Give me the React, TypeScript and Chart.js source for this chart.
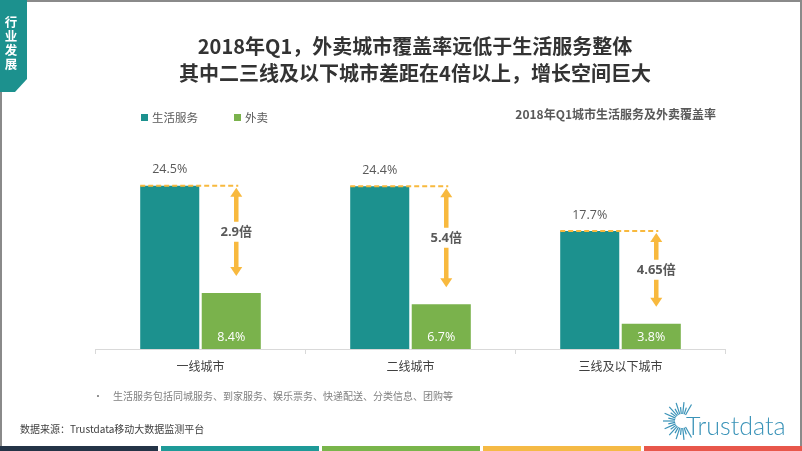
import React, { useEffect, useRef } from "react";
import { Chart, registerables } from "chart.js";

Chart.register(...registerables);

const categories = ["一线城市", "二线城市", "三线及以下城市"];
const seriesNames = ["生活服务", "外卖"];
const lifeService = [24.5, 24.4, 17.7];
const takeaway = [8.4, 6.7, 3.8];
const ratioLabels = ["2.9倍", "5.4倍", "4.65倍"];
const yRange = [0, 30];

const TEAL = "#1C918E";
const GREEN = "#7AB24C";
const ORANGE = "#F8B93E";
const FONT = "'Noto Sans CJK SC', 'Open Sans', sans-serif";
const NUMFONT = "'Open Sans', 'Noto Sans CJK SC', sans-serif";

const annotate = {
  id: "annotate",
  afterDatasetsDraw(chart: any) {
    const ctx = chart.ctx as CanvasRenderingContext2D;
    const m0 = chart.getDatasetMeta(0).data;
    const m1 = chart.getDatasetMeta(1).data;
    const base = chart.scales.y.getPixelForValue(0);
    ctx.save();
    m0.forEach((bar: any, i: number) => {
      const g = m1[i];
      const w = bar.width;
      ctx.textAlign = "center";
      ctx.textBaseline = "middle";
      ctx.font = `12.5px ${NUMFONT}`;
      ctx.fillStyle = "#595959";
      ctx.fillText(lifeService[i].toFixed(1) + "%", bar.x, bar.y - 16);
      ctx.fillStyle = "#ffffff";
      ctx.fillText(takeaway[i].toFixed(1) + "%", g.x, base - 12);

      const ax = g.x + 5;
      ctx.strokeStyle = ORANGE;
      ctx.lineWidth = 2;
      ctx.setLineDash([5, 3]);
      ctx.beginPath();
      ctx.moveTo(bar.x - w / 2, bar.y);
      ctx.lineTo(ax + 2, bar.y);
      ctx.stroke();
      ctx.setLineDash([]);

      const top = bar.y + 2;
      const bot = g.y - 17;
      const mid = (top + bot) / 2;
      ctx.lineWidth = 4.5;
      ctx.beginPath();
      ctx.moveTo(ax, top + 8);
      ctx.lineTo(ax, mid - 10);
      ctx.moveTo(ax, mid + 10);
      ctx.lineTo(ax, bot - 8);
      ctx.stroke();
      ctx.fillStyle = ORANGE;
      ctx.beginPath();
      ctx.moveTo(ax, top);
      ctx.lineTo(ax - 6, top + 9);
      ctx.lineTo(ax + 6, top + 9);
      ctx.closePath();
      ctx.fill();
      ctx.beginPath();
      ctx.moveTo(ax, bot);
      ctx.lineTo(ax - 6, bot - 9);
      ctx.lineTo(ax + 6, bot - 9);
      ctx.closePath();
      ctx.fill();

      ctx.font = `bold 13px ${NUMFONT}`;
      ctx.fillStyle = "#595959";
      ctx.fillText(ratioLabels[i], ax, mid);
    });
    ctx.restore();
  },
};

const stripeColors = ["#243447", "#1E9A98", "#79B54B", "#F5BA45", "#E8574B"];

function Sunburst() {
  const rays: any[] = [];
  const cx = 22, cy = 24;
  let k = 0;
  for (let a = 60; a <= 300; a += 12) {
    const rad = (a * Math.PI) / 180;
    const r0 = 7;
    const r1 = k % 2 === 0 ? 19 : 14;
    rays.push(
      <line
        key={a}
        x1={cx + r0 * Math.cos(rad)}
        y1={cy - r0 * Math.sin(rad)}
        x2={cx + r1 * Math.cos(rad)}
        y2={cy - r1 * Math.sin(rad)}
        stroke="#3A93B8"
        strokeWidth={1.2}
      />
    );
    k++;
  }
  return (
    <svg width={44} height={48} style={{ position: "absolute", left: 660, top: 397 }}>
      {rays}
    </svg>
  );
}

export default function App() {
  const ref = useRef<HTMLCanvasElement>(null);
  useEffect(() => {
    if (!ref.current) return;
    const chart = new Chart(ref.current, {
      type: "bar",
      data: {
        labels: categories,
        datasets: [
          {
            label: seriesNames[0],
            data: lifeService,
            backgroundColor: TEAL,
            categoryPercentage: 0.586,
            barPercentage: 0.96,
          },
          {
            label: seriesNames[1],
            data: takeaway,
            backgroundColor: GREEN,
            categoryPercentage: 0.586,
            barPercentage: 0.96,
          },
        ],
      },
      options: {
        responsive: false,
        animation: false,
        layout: { padding: { left: 95.5, right: 76.5, top: 149, bottom: 62 } },
        plugins: { legend: { display: false }, tooltip: { enabled: false } },
        scales: {
          x: {
            grid: {
              display: true,
              drawOnChartArea: false,
              drawTicks: true,
              tickLength: 5,
              color: "#d9d9d9",
            },
            border: { color: "#d9d9d9" },
            ticks: { color: "#404040", font: { size: 12, family: FONT }, padding: 5 },
            afterFit: (s: any) => {
              s.height = 40;
            },
          },
          y: { display: false, min: yRange[0], max: yRange[1] },
        },
      } as any,
      plugins: [annotate],
    });
    return () => chart.destroy();
  }, []);

  const abs = (s: any) => ({ position: "absolute", ...s }) as React.CSSProperties;

  return (
    <div style={abs({ left: 0, top: 0, width: 802, height: 451, background: "#fff", overflow: "hidden", fontFamily: FONT })}>
      <canvas ref={ref} width={802} height={451} style={abs({ left: 0, top: 0, width: 802, height: 451 })} />
      {/* frame */}
      <div style={abs({ left: 0, top: 0, width: 802, height: 2, background: "#8a8a8a" })} />
      <div style={abs({ left: 0, top: 92, width: 2, height: 354, background: "#8a8a8a" })} />
      <div style={abs({ left: 800, top: 0, width: 2, height: 446, background: "#8a8a8a" })} />
      {/* tag */}
      <div
        style={abs({
          left: 0,
          top: 0,
          width: 27,
          height: 92,
          background: "#1C918E",
          clipPath: "polygon(0 0, 27px 0, 27px 79px, 15px 92px, 0 92px)",
        })}
      />
      <div
        style={abs({
          left: 0,
          top: 15,
          width: 22,
          textAlign: "center",
          color: "#fff",
          fontWeight: 700,
          fontSize: 12.5,
          lineHeight: "14px",
        })}
      >
        行<br />业<br />发<br />展
      </div>
      {/* title */}
      <div
        style={abs({
          left: 28,
          width: 774,
          top: 31.5,
          textAlign: "center",
          color: "#333",
          fontWeight: 700,
          fontSize: 20,
          lineHeight: "27px",
          whiteSpace: "nowrap",
        })}
      >
        2018年Q1，外卖城市覆盖率远低于生活服务整体
        <br />
        其中二三线及以下城市差距在4倍以上，增长空间巨大
      </div>
      {/* legend */}
      <div style={abs({ left: 141, top: 114, width: 7, height: 7, background: TEAL })} />
      <div style={abs({ left: 152, top: 109, fontSize: 11.5, lineHeight: "17px", color: "#595959", whiteSpace: "nowrap" })}>
        {seriesNames[0]}
      </div>
      <div style={abs({ left: 234, top: 114, width: 7, height: 7, background: GREEN })} />
      <div style={abs({ left: 245, top: 109, fontSize: 11.5, lineHeight: "17px", color: "#595959", whiteSpace: "nowrap" })}>
        {seriesNames[1]}
      </div>
      {/* subtitle */}
      <div
        style={abs({
          right: 86,
          top: 105,
          fontSize: 12,
          lineHeight: "18px",
          fontWeight: 700,
          color: "#595959",
          whiteSpace: "nowrap",
        })}
      >
        2018年Q1城市生活服务及外卖覆盖率
      </div>
      {/* footnote */}
      <div style={abs({ left: 93, top: 389, fontSize: 10, lineHeight: "14px", color: "#808080" })}>•</div>
      <div style={abs({ left: 113, top: 389, fontSize: 10, lineHeight: "14px", color: "#808080", whiteSpace: "nowrap" })}>
        生活服务包括同城服务、到家服务、娱乐票务、快递配送、分类信息、团购等
      </div>
      <div style={abs({ left: 20, top: 422, fontSize: 10, lineHeight: "14px", color: "#404040", whiteSpace: "nowrap" })}>
        数据来源：Trustdata移动大数据监测平台
      </div>
      {/* logo */}
      <Sunburst />
      <div
        style={abs({
          left: 686,
          top: 410,
          fontFamily: "Lato, 'Open Sans', sans-serif",
          fontWeight: 300,
          fontSize: 25,
          lineHeight: "30px",
          color: "#3A93B8",
          whiteSpace: "nowrap",
        })}
      >
        Trustdata
      </div>
      {/* stripes */}
      {stripeColors.map((c, i) => (
        <div key={c} style={abs({ left: i * 161, top: 446, width: 158, height: 5, background: c })} />
      ))}
    </div>
  );
}
